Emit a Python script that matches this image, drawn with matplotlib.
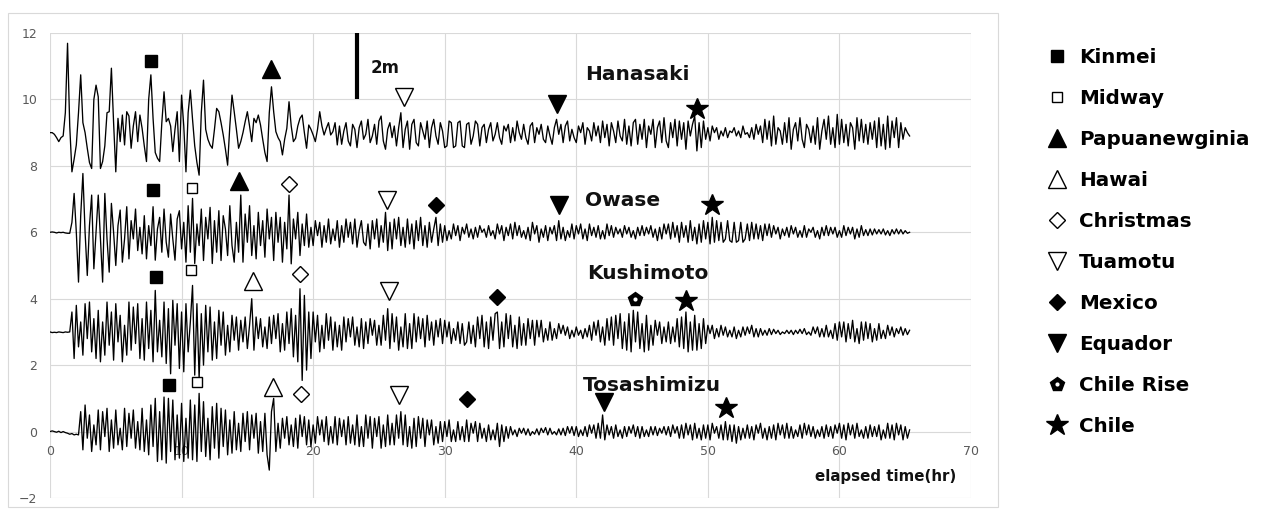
import matplotlib.pyplot as plt
from matplotlib.patches import Rectangle
import numpy as np

# tide gauge records, sampled every 10 minutes, anomalies in cm
dt = 1 / 6

stations = ['Hanasaki', 'Owase', 'Kushimoto', 'Tosashimizu']
offsets = [9, 6, 3, 0]

hanasaki = [
    0, 0, -5, -15, -27, -15,
    -10, 60, 269, 20, -118, -80,
    -37, 60, 174, 30, 0, -47,
    -90, -108, 100, 143, 108, -108,
    -87, -40, 60, 63, 194, 30,
    -118, 43, -27, 53, -37, 63,
    50, -47, 20, 63, -27, 53,
    13, -40, -87, 100, 174, 43,
    -60, -77, -87, 30, 123, 33,
    43, 20, -57, 10, 63, -87,
    113, 20, -118, 60, 128, 40,
    -40, -90, -128, 60, 158, 10,
    -20, -37, -47, 10, 73, 63,
    30, -7, -50, -98, 20, 113,
    63, 10, -47, -27, 0, 33,
    63, 20, -27, 43, 30, 53,
    23, -20, -60, -87, 60, 138,
    63, 3, -15, -27, -67, -20,
    13, 93, 20, -27, -17, 20,
    43, 53, 0, -47, 23, 10,
    -7, -27, 10, 63, 20, -7,
    13, 30, -7, 3, 30, -37,
    20, -35, 5, 30, -25, -40,
    25, 10, -45, 15, 35, -20,
    -5, 40, -30, -10, 25, -35,
    35, 50, -25, -50, 10, 30,
    -15, 20, -40, 15, 60, -45,
    10, 35, -50, 25, 40, -30,
    -40, 30, 5, -20, 35, -45,
    15, 40, -10, -35, 30, 5,
    -45, -40, 35, 30, -45, -40,
    30, 35, -40, -45, 25, 30,
    -35, -10, 35, 25, -40, 15,
    25, -30, 10, 30, -25, -5,
    30, -15, -35, 20, 5, 25,
    -30, 15, -25, 35, 0, -20,
    25, -15, -35, 20, 30, -30,
    15, -5, 25, -20, -30, 20,
    -10, -35, 15, 40, -5, 25,
    -30, 20, 35, -25, 10, -15,
    -30, 20, 0, 30, -35, 15,
    5, -25, 30, -10, 20, -30,
    35, -15, 25, -40, 30, 5,
    -30, 35, -10, -25, 40, -35,
    20, -40, 30, 40, -35, 25,
    -20, 40, -45, 20, -5, 40,
    -45, 15, 35, -30, 45, -25,
    -45, 30, -15, 40, -40, 35,
    -20, 30, -50, 35, -10, 25,
    50, -55, 30, -45, 35, -20,
    15, -25, 20, 0, 15, -20,
    5, -10, 15, -15, 5, 0,
    15, -10, 5, -15, 20, -5,
    0, -15, 15, -20, 25, -5,
    20, -30, 40, -20, 35, -40,
    50, -35, 15, 5, -35, 30,
    -30, 45, -50, 10, 30, -25,
    45, -20, -45, 25, 10, -30,
    20, -35, 45, -50, 5, 40,
    -20, 50, -35, 15, -45, 55,
    -35, 40, -30, 25, -40, 30,
    15, -50, 45, -25, 40, -30,
    25, -35, 30, -20, 35, -45,
    45, -40, 25, -50, 50, -45,
    35, -15, 45, -45, 30, -20,
    15, 0, -10,
]

owase = [
    0, 1, 0, -2, 0, -1,
    0, -2, -3, -3, 30, 117,
    0, -150, 50, 177, 0, -130,
    20, 112, -110, 0, 112, -20,
    -150, 117, -20, -120, 87, 0,
    -100, 20, 67, -90, -20, 77,
    -80, 35, -20, 70, -55, 15,
    -65, 50, -80, 20, -40, 77,
    -84, 10, 45, -60, 70, -30,
    -75, 55, -20, -84, 40, 65,
    -50, 30, -90, 80, -60, 102,
    -94, 25, -40, 70, -85, 45,
    -20, 75, -94, 35, -60, 65,
    -85, 50, 10, -70, 80, -40,
    -90, 30, -60, 112, -90, 55,
    -30, 80, -70, 20, -80, 60,
    -40, 35, -75, 70, -20, 45,
    -85, 60, -30, 45, -90, 30,
    -50, 112, -95, 40, -20, 60,
    -70, 25, -40, 55, -45, 15,
    -40, 35, -10, 30, -45, 20,
    -30, 40, -35, 10, -25, 35,
    -45, 20, -30, 40, -15, 30,
    -35, 40, -45, 5, 35, -30,
    -40, 25, -50, 35, -20, 40,
    -45, 20, -30, 60, -55, 30,
    -50, 40, -20, 45, -40, 15,
    -45, 40, -35, 25, -50, 35,
    -25, 45, -40, 20, -45, 30,
    -30, 10, 45, -40, 25, -30,
    20, -25, 5, -20, 25, -10,
    20, -25, 15, -5, 25, -15,
    10, -20, 15, -15, 20, 0,
    10, -15, 20, -10, 5, -20,
    25, -5, 20, -25, 15, -10,
    25, -20, 30, -10, 20, -15,
    5, -20, 15, -25, 30, -5,
    20, -30, 10, -15, 20, -25,
    15, -5, 20, -25, 35, -20,
    15, -25, 5, -15, 25, -20,
    20, -5, 25, -20, 10, -25,
    25, -10, 15, -15, 20, -20,
    5, -20, 25, -10, 20, -15,
    15, -5, 10, -15, 20, -5,
    15, -15, 5, -20, 15, -10,
    20, -10, 15, -5, 20, -15,
    10, -25, 15, -20, 25, -5,
    25, -20, 30, -15, 20, -30,
    30, -15, 20, -30, 35, -25,
    15, -35, 25, -30, 35, -20,
    30, -35, 45, -30, 35, -25,
    30, -30, -20, 35, -25, -30,
    30, -30, -25, 30, -30, -20,
    25, -25, 30, -20, 25, -20,
    20, -25, 25, -10, 25, -15,
    20, -5, 15, -20, 10, -10,
    15, -15, 20, -5, 15, -15,
    5, -15, 20, -15, 10, 0,
    15, -15, 5, -20, 15, -10,
    20, -10, 15, -5, 15, -15,
    5, -15, 20, -10, 15, -5,
    15, -20, 10, -15, 20, -10,
    8, -10, 10, -8, 10, -5,
    8, -5, 10, -8, 5, -10,
    8, -5, 10, -5, 8, -5,
    5, -3, 0,
]

kushimoto = [
    0, -2, -1, -2, 0, -1,
    -2, 0, -1, 0, 60, -80,
    80, -45, 30, -70, 85, -20,
    90, -60, 40, -80, 65, -90,
    30, -70, 90, -40, 60, -85,
    85, -30, 50, -90, 20, -70,
    90, -55, 75, -35, 85, -80,
    40, -85, 90, -50, 65, -90,
    125, -60, 35, -75, 90, -95,
    70, -126, 95, -40, 85, -110,
    60, -120, 85, -60, 30, 140,
    -130, 85, -140, 55, -100, 80,
    -60, 75, -85, 30, -80, 65,
    -40, 60, -70, 20, -60, 50,
    -25, 45, -55, 35, -30, 45,
    -50, 20, 100, -55, 45, -20,
    40, -45, 15, -50, 45, -35,
    50, -20, 55, -60, 25, -55,
    60, -35, 70, -75, 50, -90,
    130, -146, 110, -115, 60, -80,
    60, -30, 50, -60, 20, -50,
    55, -25, 45, -55, 30, -45,
    20, -55, 45, -30, 40, -15,
    45, -40, 15, -45, 40, -50,
    30, -35, 40, -10, 35, -40,
    20, -40, 50, -25, 70, -50,
    55, -30, 45, -55, 15, -45,
    55, -50, 25, -50, 55, -30,
    45, -20, 40, -45, 50, -25,
    30, -40, 35, -15, 40, -35,
    35, -15, 30, -35, 10, -25,
    30, -35, 25, -40, -30, 30,
    -35, 20, -45, 45, -20, 50,
    -45, 30, -50, 45, -25, 55,
    60, -50, 30, -45, 55, -20,
    50, -45, 20, -50, 45, -40,
    25, -40, 40, -20, 35, -40,
    35, -15, 35, -30, 10, -25,
    30, -25, 10, -20, 25, -5,
    20, -10, 15, -20, 5, -15,
    15, -10, 5, -20, 10, -15,
    20, -25, 30, -10, 35, -30,
    15, -40, 40, -25, 45, -40,
    50, -20, 55, -50, 30, -55,
    55, -60, 65, -30, 60, -50,
    25, -60, 50, -55, 20, -40,
    35, -10, 30, -35, 15, -30,
    30, -35, 15, -30, 40, -45,
    45, -50, 60, -60, 30, -55,
    50, -55, 25, -50, 40, -35,
    20, -5, 20, -20, 10, -15,
    20, -10, 15, -15, 5, -15,
    15, -20, 5, -15, 15, -10,
    15, -5, 20, -15, 10, -15,
    10, -10, 5, -10, 10, -8,
    8, -5, 5, -8, 0, -5,
    5, -5, 5, -8, 5, -5,
    8, -5, 10, -8, 0, -10,
    15, -5, 15, -15, 10, -15,
    20, -15, 5, -20, 25, -25,
    30, -15, 30, -30, 25, -20,
    35, -30, 10, -35, 30, -25,
    30, -20, 25, -30, 10, -25,
    25, -20, 5, -20, 20, -10,
    15, -15, 10, -5, 15, -10,
    10, -8, 5,
]

tosashimizu = [
    0, 2, 0, -2, 1, -3,
    0, -3, -5, -8, -6, -10,
    -8, -10, 60, -55, 80, -20,
    50, -60, 20, -40, 65, -55,
    60, -15, 70, -60, 35, -50,
    65, -40, 10, -55, 70, -45,
    55, -20, 65, -50, 30, -55,
    70, -60, 35, -70, 80, -45,
    100, -90, 60, -85, 104, -95,
    100, -60, 95, -85, 50, -80,
    85, -90, 40, -80, 95, -85,
    80, -90, 115, -60, 90, -75,
    40, -85, 75, -50, 85, -80,
    70, -45, 65, -70, 35, -65,
    60, -55, 25, -60, 55, -30,
    60, -55, 50, -20, 55, -65,
    30, -60, 55, -70, -116, 60,
    100, -60, 25, -50, 40, -20,
    45, -40, 20, -45, 40, -50,
    50, -15, 45, -40, 35, -45,
    20, -35, 45, -10, 35, -30,
    45, -40, 15, -35, 45, -40,
    40, -15, 35, -40, 45, -35,
    20, -40, 50, -45, 15, -45,
    50, -20, 45, -50, 40, -15,
    45, -50, 20, -45, 50, -40,
    25, -40, 50, -20, 60, -40,
    50, -45, 15, -50, 40, -45,
    45, -20, 40, -45, 35, -10,
    35, -40, 15, -35, 30, -30,
    30, -15, 35, -30, 5, -30,
    30, -25, 15, -30, 35, -30,
    25, -5, 30, -30, 25, -20,
    10, -30, 20, -25, 5, -25,
    25, -45, 20, -30, 15, -20,
    15, -10, 5, -15, 10, -5,
    10, -10, 8, -12, 0, -8,
    8, -10, 10, -3, 12, -10,
    10, -8, 0, -10, 8, -10,
    10, -12, 15, -5, 15, -12,
    15, -15, 5, -12, 15, -15,
    20, -5, 20, -20, 25, -20,
    50, -25, 20, -10, 15, -20,
    20, -15, 5, -20, 15, -15,
    15, -5, 20, -15, 15, -20,
    15, -15, 5, -15, 15, -10,
    15, -12, 10, -5, 15, -10,
    15, -15, 20, -5, 15, -20,
    20, -20, 25, -10, 20, -25,
    25, -20, 10, -25, 20, -20,
    20, -25, 25, -5, 15, -20,
    20, -25, 30, -25, 20, -30,
    20, -35, 15, -25, 10, -20,
    20, -20, 15, -25, 20, -5,
    25, -20, 10, -25, 15, -20,
    20, -25, 25, -10, 20, -20,
    25, -20, 15, -20, 5, -15,
    20, -20, 25, -10, 20, -15,
    15, -20, 5, -15, 15, -20,
    20, -15, 15, -20, 20, -5,
    25, -20, 20, -25, 25, -10,
    20, -20, 25, -15, 5, -20,
    15, -20, 20, -15, 15, -15,
    20, -25, 5, -20, 25, -20,
    20, -25, 25, -10, 20, -25,
    15, -20, 5,
]

records = [hanasaki, owase, kushimoto, tosashimizu]

events = ['Kinmei', 'Midway', 'Papuanewginia', 'Hawai', 'Christmas',
          'Tuamotu', 'Mexico', 'Equador', 'Chile Rise', 'Chile']

# arrival marks per station: event -> (hour, height on chart)
hanasaki_marks = {'Kinmei': (7.65, 11.16), 'Papuanewginia': (16.8, 10.92),
                  'Tuamotu': (26.9, 10.07), 'Equador': (38.5, 9.86),
                  'Chile': (49.2, 9.72)}
owase_marks = {'Kinmei': (7.85, 7.27), 'Midway': (10.8, 7.34),
               'Papuanewginia': (14.4, 7.55), 'Christmas': (18.2, 7.45),
               'Tuamotu': (25.6, 6.97), 'Mexico': (29.35, 6.82),
               'Equador': (38.65, 6.82), 'Chile': (50.35, 6.82)}
kushimoto_marks = {'Kinmei': (8.03, 4.66), 'Midway': (10.7, 4.86),
                   'Hawai': (15.4, 4.53), 'Christmas': (19.0, 4.73),
                   'Tuamotu': (25.8, 4.23), 'Mexico': (34.0, 4.06),
                   'Chile Rise': (44.5, 3.98), 'Chile': (48.35, 3.94)}
tosashimizu_marks = {'Kinmei': (9.06, 1.40), 'Midway': (11.2, 1.48),
                     'Hawai': (16.96, 1.35), 'Christmas': (19.1, 1.12),
                     'Tuamotu': (26.5, 1.10), 'Mexico': (31.7, 0.97),
                     'Equador': (42.1, 0.90), 'Chile': (51.4, 0.70)}
marks = [hanasaki_marks, owase_marks, kushimoto_marks, tosashimizu_marks]

# marker, face colour, size
styles = {
    'Kinmei': ('s', 'black', 8.5),
    'Midway': ('s', 'white', 7),
    'Papuanewginia': ('^', 'black', 12.5),
    'Hawai': ('^', 'white', 12.5),
    'Christmas': ('D', 'white', 8),
    'Tuamotu': ('v', 'white', 12.5),
    'Mexico': ('D', 'black', 8),
    'Equador': ('v', 'black', 12.5),
    'Chile Rise': ('p', 'black', 10),
    'Chile': ('*', 'black', 16.5),
}

grid_c = '#d9d9d9'
tick_c = '#595959'

fig = plt.figure(figsize=(12.61, 5.13), dpi=100)
ax = fig.add_axes([50 / 1261, 1 - 498 / 513, 921 / 1261, 465 / 513])

for rec, off in zip(records, offsets):
    v = np.array(rec) / 100 + off
    t = np.arange(len(v)) * dt
    ax.plot(t, v, color='black', lw=0.95, zorder=3)

label_pos = [(40.7, 10.75), (40.7, 6.97), (40.8, 4.75), (40.5, 1.40)]
for name, (x, y) in zip(stations, label_pos):
    ax.text(x, y, name, fontsize=14.5, fontweight='bold', color='#111111',
            ha='left', va='center', zorder=4)

handles = []
for ev in events:
    m, fc, ms = styles[ev]
    xs = [mk[ev][0] for mk in marks if ev in mk]
    ys = [mk[ev][1] for mk in marks if ev in mk]
    h, = ax.plot(xs, ys, ls='none', marker=m, ms=ms, mfc=fc, mec='black',
                 mew=1.0, zorder=5)
    if ev == 'Chile Rise':
        d, = ax.plot(xs, ys, ls='none', marker='o', ms=3, mfc='white',
                     mec='white', mew=0, zorder=6)
        h = (h, d)
    handles.append(h)

# 2 m scale bar
ax.plot([23.3, 23.3], [10, 12], color='black', lw=3, solid_capstyle='butt',
        zorder=4)
ax.text(24.4, 10.95, '2m', fontsize=12, fontweight='bold', color='#111111',
        ha='left', va='center')

ax.text(63.5, -1.35, 'elapsed time(hr)', fontsize=10.8, fontweight='bold',
        color='#111111', ha='center', va='center')

ax.set_xlim(0, 70)
ax.set_ylim(-2, 12)
ax.set_xticks(range(0, 71, 10))
ax.set_yticks(range(-2, 13, 2))
ax.grid(True, color=grid_c, lw=0.8, zorder=0)
ax.set_axisbelow(True)
for s in ax.spines.values():
    s.set_visible(False)
ax.spines['bottom'].set_position(('data', 0))
ax.tick_params(axis='both', length=0, labelsize=9, labelcolor=tick_c)
ax.tick_params(axis='x', pad=10)
ax.tick_params(axis='y', pad=9)

fig.patches.append(Rectangle((8 / 1261, 1 - 507 / 513), 990 / 1261,
                             494 / 513, transform=fig.transFigure,
                             fill=False, ec=grid_c, lw=0.8))

fig.legend(handles, events, loc='upper left',
           bbox_to_anchor=(1047 / 1261, 1 - 47.7 / 513),
           frameon=False, borderpad=0, borderaxespad=0, handlelength=1.0,
           handletextpad=0.6, labelspacing=1.11,
           prop={'weight': 'bold', 'size': 14.3})

fig.savefig('out.png', dpi=100)
